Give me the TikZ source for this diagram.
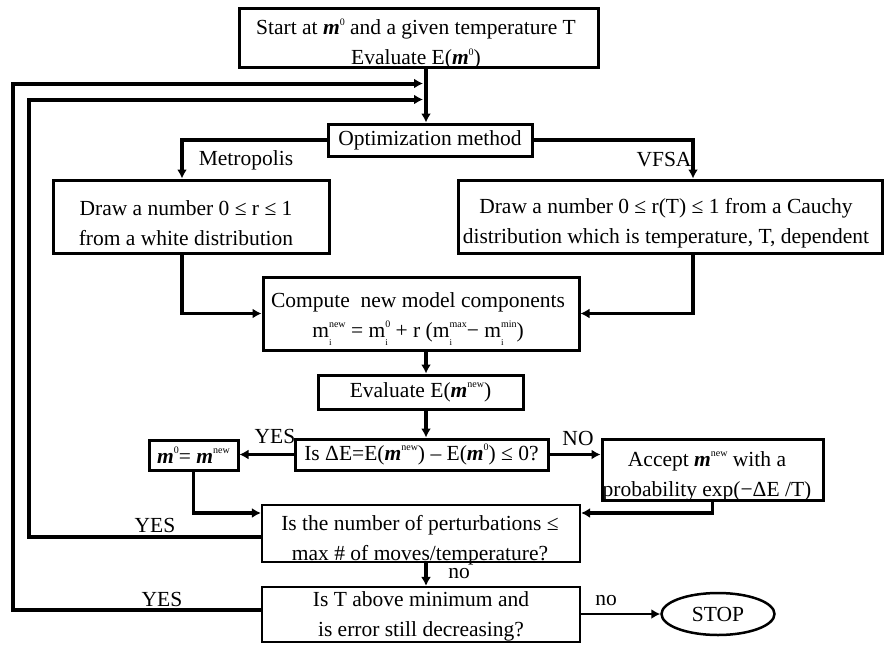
\documentclass[tikz,border=0pt]{standalone}
\usepackage{fontspec}
\setmainfont{Liberation Serif}
\usetikzlibrary{arrows.meta,shapes.geometric}
% bold italic model vector m
\newcommand{\vm}{\textbf{\textit{m}}}
% small raised and lowered indices
\newcommand{\sps}[1]{\raisebox{0.45em}{\fontsize{10}{10}\selectfont #1}}
\newcommand{\sbs}[1]{\raisebox{-0.36em}{\fontsize{9}{9}\selectfont #1}}
% component m_i with a superscript stacked over the index
\newcommand{\mcomp}[1]{m\rlap{\sbs{i}}\sps{#1}}
\begin{document}
\begin{tikzpicture}[x=1pt,y=-1pt,
  every node/.style={font=\fontsize{21.5}{30}\selectfont},
  box/.style={draw,line width=3pt,inner sep=0pt},
  thinbox/.style={draw,line width=2.2pt,inner sep=0pt},
  txt/.style={align=center,inner sep=0pt},
  lbl/.style={inner sep=0pt},
  tip/.style={-{Latex[length=9pt,width=10pt]}},
  flow/.style={tip,line width=3.5pt},
  thinflow/.style={tip,line width=2pt},
  loopback/.style={tip,line width=4pt}]
\useasboundingbox (0,0) rectangle (885,645);

% positions of the spine and the branch columns
\coordinate (sp) at (426,0);
\coordinate (xm) at (182,0);
\coordinate (xv) at (693,0);
\coordinate (j1) at (423,83.5);
\coordinate (j2) at (423,99.5);
\coordinate (yP) at (0,513);
\coordinate (yA) at (0,537);
\coordinate (yT) at (0,610);

% boxes
\node[box,minimum width=359,minimum height=59] (start) at (418.5,37.5) {};
\node[txt] (startT) at (416,44) {Start at \vm\sps{0} and a given temperature T\\Evaluate E(\vm\sps{0})};

\node[box,minimum width=204,minimum height=32] (opt) at (430,140) {Optimization method};

\node[box,minimum width=276,minimum height=73] (metro) at (191,216.5) {};
\node[txt] (metroT) at (186,223) {Draw a number 0 ≤ r ≤ 1\\from a white distribution};

\node[box,minimum width=424,minimum height=73] (vfsa) at (670,216.5) {};
\node[txt] (vfsaT) at (666,223) {Draw a number 0 ≤ r(T) ≤ 1 from a Cauchy\\distribution which is temperature, T, dependent};

\node[box,minimum width=316,minimum height=73] (comp) at (421,313.5) {};
\node[txt] (compT) at (418,319) {Compute\ \ new model components\\\mcomp{new} = \mcomp{0} + r (\mcomp{max}− \mcomp{min})};

\node[box,minimum width=205,minimum height=34] (eval) at (420.5,392) {Evaluate E(\vm\sps{new})};

\node[box,minimum width=253,minimum height=31] (dE) at (421.5,454.5) {Is ΔE=E(\vm\sps{new}) – E(\vm\sps{0}) ≤ 0?};

\node[box,minimum width=89,minimum height=30] (m0) at (193.5,455) {\vm\sps{0}= \vm\sps{new}};

\node[box,minimum width=221,minimum height=61] (accept) at (712.5,469.5) {};
\node[txt] (acceptT) at (707,476) {Accept \vm\sps{new} with a\\probability exp(−ΔE /T)};

\node[thinbox,minimum width=318,minimum height=57] (pert) at (421,533.5) {};
\node[txt] (pertT) at (420,540) {Is the number of perturbations ≤\\max \# of moves/temperature?};

\node[thinbox,minimum width=318,minimum height=55] (tbox) at (421,614.5) {};
\node[txt] (tboxT) at (421,616) {Is T above minimum and\\is error still decreasing?};

\node[draw,ellipse,line width=2.5pt,minimum width=113,minimum height=42,inner sep=0pt] (stop) at (718,614) {STOP};

% connectors
\draw[flow] (start.south -| sp) -- (opt.north -| sp);
\draw[flow] (opt.west) -| (metro.north -| xm);
\draw[flow] (opt.east) -| (vfsa.north -| xv);
\draw[flow] (metro.south -| xm) |- (comp.west);
\draw[flow] (vfsa.south -| xv) |- (comp.east);
\draw[flow] (comp.south -| sp) -- (eval.north -| sp);
\draw[flow] (eval.south -| sp) -- (dE.north -| sp);
\draw[flow] (dE.west) -- (m0.east |- dE.west);
\draw[flow] (dE.east) -- (accept.west |- dE.east);
\draw[flow] (m0.south) |- (pert.west |- yP);
\draw[flow] (accept.south) |- (pert.east |- yP);
\draw[flow] (pert.south -| sp) -- (tbox.north -| sp);
\draw[thinflow] (tbox.east |- stop.west) -- (stop.west);

% loops back to the top of the spine
\draw[loopback] (pert.west |- yA) -- (28.5,537) -- (28.5,99.5) -- (j2);
\draw[loopback] (tbox.west |- yT) -- (12.5,610) -- (12.5,83.5) -- (j1);

% branch labels
\node[lbl] (lMetro) at (246,160) {Metropolis};
\node[lbl] (lVfsa) at (664,160) {VFSA};
\node[lbl] (lYes1) at (275,436) {YES};
\node[lbl] (lNo1) at (578,438) {NO};
\node[lbl] (lYes2) at (155,525) {YES};
\node[lbl] (lNo2) at (459,574) {no};
\node[lbl] (lYes3) at (162,599) {YES};
\node[lbl] (lNo3) at (606,601) {no};
\end{tikzpicture}
\end{document}
